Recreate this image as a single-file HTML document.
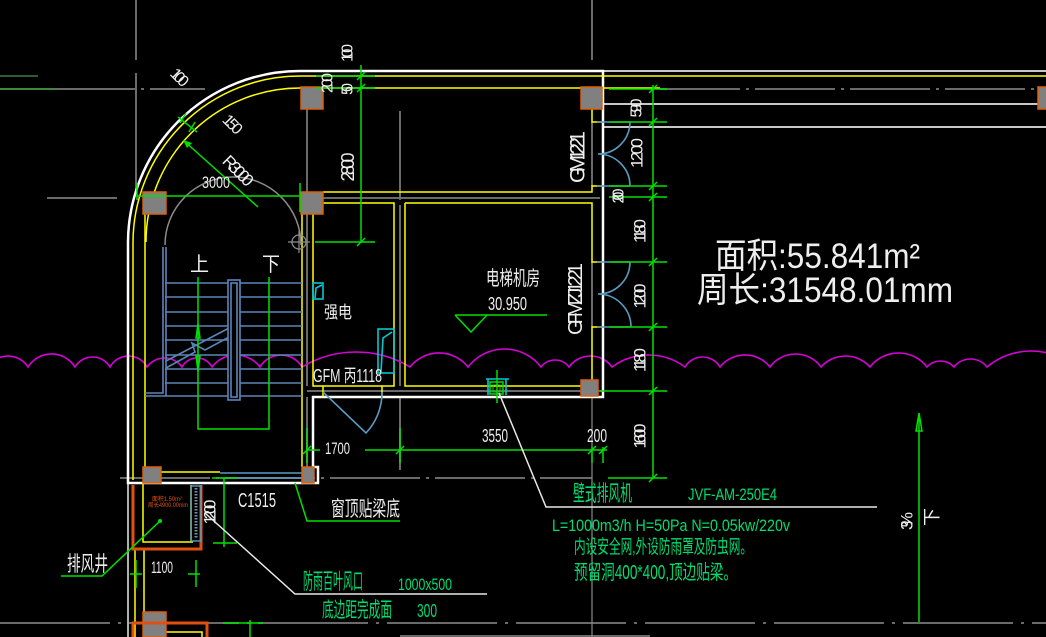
<!DOCTYPE html>
<html><head><meta charset="utf-8">
<style>
html,body{margin:0;padding:0;background:#000;}
svg{display:block;}
text{font-family:"Liberation Sans","Noto Sans CJK SC",sans-serif;}
</style></head>
<body>
<svg width="1046" height="637" viewBox="0 0 1046 637" xmlns="http://www.w3.org/2000/svg">
<rect width="1046" height="637" fill="#000"/>

<!-- gray axis lines -->
<g stroke="#6a6a6a" stroke-width="2" fill="none">
<path d="M55 89H205 M660 89H1046" stroke-dasharray="80 6 3 6"/>
<path d="M47 198H117 M300 198H600"/>
<path d="M307 391H603"/>
<path d="M120 478H592" stroke-dasharray="90 6 3 6"/>
<path d="M0 623H1046" stroke-dasharray="110 8 3 8"/>
<path d="M400 636H650"/>
<path d="M136 0V60 M136 73V190"/>
<path d="M592 0V60"/>
<path d="M307 109V192 M307 214V386 M307 397V467"/>
<path d="M400 111V200 M400 205V386 M400 397V470"/>
<path d="M592 122V186 M592 262V327"/>
</g>
<path d="M592 396V637" stroke="#8a8a8a" stroke-width="1.2"/>
<path d="M128 483V637" stroke="#b0b0b0" stroke-width="2"/>

<!-- corridor light gray -->
<g stroke="#c8c8c8" stroke-width="2"><path d="M603 71H1046 M603 104H1046 M603 127H1046"/></g>

<!-- magenta revision cloud -->
<path fill="none" stroke="#d800d8" stroke-width="1.6" d="M-12 367
A23.7 23.7 0 0 1 28 367
A27.7 27.7 0 0 1 75 367
A20.3 20.3 0 0 1 110 367
A21.1 21.1 0 0 1 147 367
A21.5 21.5 0 0 1 182 367
A17 17 0 0 1 212 367
A30 30 0 0 1 260 367
A24.4 24.4 0 0 1 302 367
A104.7 104.7 0 0 1 410 367
A37 37 0 0 1 468 367
A46 46 0 0 1 541 367
A17.5 17.5 0 0 1 569 367
A26.5 26.5 0 0 1 612 367
A61.5 61.5 0 0 1 685 367
A20.3 20.3 0 0 1 720 367
A32 32 0 0 1 770 367
A31.5 31.5 0 0 1 821 367
A32.8 32.8 0 0 1 870 367
A36 36 0 0 1 927 367
A18.2 18.2 0 0 1 954 367
A21 21 0 0 1 987 367
A68.5 68.5 0 0 1 1075 367"/>

<!-- white outer walls -->
<path d="M300 71H603V397H313V467H318V483H128V242A172 172 0 0 1 300 71" stroke="#ffffff" stroke-width="2.5" fill="none"/>

<!-- yellow walls -->
<g stroke="#ffff00" stroke-width="1.5" fill="none">
<path d="M300 76H1046"/>
<path d="M133 243A167 167 0 0 1 300 76"/>
<path d="M300 88H660"/>
<path d="M146 242A154 154 0 0 1 300 88"/>
<path d="M133 243V480"/>
<path d="M145 214V467"/>
<path d="M302 214V467"/>
<path d="M592 109V122H603"/>
<path d="M323 192H592V186H603"/>
<path d="M313 214V386H394V203H323"/>
<path d="M405 203V386H581"/>
<path d="M405 203H592V262H603"/>
<path d="M603 327H592V380"/>
<path d="M149 483V472H220"/>
<path d="M323 386V397 M382 386V397"/>
<path d="M143 483V542H193 M191 485V542"/>
<path d="M135 548V637 M144 548V612"/>
<path d="M166 632H202V637"/>
</g>

<!-- gray semicircle + crosshair -->
<path d="M165 245A68 68 0 0 1 301 245" stroke="#8c8c8c" stroke-width="1.5" fill="none"/>
<circle cx="299" cy="242" r="7" stroke="#8c8c8c" stroke-width="1.3" fill="none"/>
<path d="M288 242H310 M299 231V253" stroke="#8c8c8c" stroke-width="1.2"/>

<!-- stairs -->
<g stroke="#5a85b8" stroke-width="1.6" fill="none">
<path d="M165 283H302 M165 297H302 M165 312H302 M165 326H302 M165 340H302 M165 355H302 M165 369H302 M165 383H302"/>
<path d="M145 396H302"/>
<path d="M163 247V393H145 M166 247V396"/>
<path d="M166 361L231 327 M166 368L195 352L192 343L205 350L231 336"/>
<rect x="228" y="280" width="12" height="120" fill="#000"/>
<rect x="231" y="283" width="6" height="114"/>
</g>

<!-- stair arrows -->
<g stroke="#00e000" stroke-width="1.5" fill="none">
<path d="M198 277V429H269V277"/>
<path d="M196 338L198 324L200 338Z"/>
<path d="M196 356L198 371L200 356Z"/>
</g>

<!-- doors (blue) -->
<g stroke="#5a9ac0" stroke-width="1.6" fill="none">
<path d="M597 122H630 M597 186H630"/>
<path d="M630 122A32 32 0 0 1 598 154 A32 32 0 0 1 630 186"/>
<path d="M597 262H630 M597 327H630"/>
<path d="M630 262A32 32 0 0 1 598 294 A33 33 0 0 1 631 327"/>
<path d="M323 392L366 433 A59 59 0 0 0 382 392"/>
<path d="M220 473H302 M220 478H302"/>
</g>

<!-- cyan elements -->
<g stroke="#00c8d0" stroke-width="1.6" fill="none">
<rect x="313" y="283" width="10" height="16"/>
<path d="M315 298L316 288L322 285"/>
<rect x="378" y="329" width="16" height="44"/>
<path d="M381 372L383 338L392 332"/>
<path d="M486 379H509 M488 379V395 M506 379V395"/>
</g>
<rect x="490" y="382" width="13" height="12" stroke="#00e000" stroke-width="1.5" fill="none"/>
<path d="M493 385H500V392H493Z" stroke="#00e000" stroke-width="1" fill="none"/>

<!-- columns -->
<g fill="#808080" stroke="#e0600a" stroke-width="1.5">
<rect x="301" y="87" width="22" height="22"/>
<rect x="143" y="192" width="23" height="22"/>
<rect x="301" y="192" width="22" height="22"/>
<rect x="581" y="87" width="21" height="22"/>
<rect x="581" y="380" width="17" height="16"/>
<rect x="143" y="467" width="18" height="16"/>
<rect x="302" y="467" width="12" height="16"/>
<rect x="143" y="612" width="23" height="25"/>
<rect x="1038" y="87" width="10" height="22"/>
</g>

<!-- shaft orange -->
<g stroke="#e05010" stroke-width="3" fill="none">
<path d="M133 485V549H201V485"/>
<path d="M133 637V623H207V637"/>
</g>
<rect x="191" y="486" width="10" height="55" stroke="#5a9ac0" stroke-width="1.4" fill="none"/>
<path d="M196 488V539" stroke="#7090a8" stroke-width="3" stroke-dasharray="1.5 1.5"/>
<text x="152" y="501" font-size="6" fill="#e05010" textLength="30" lengthAdjust="spacingAndGlyphs">面积1.50m²</text>
<text x="148" y="507" font-size="6" fill="#e05010" textLength="40" lengthAdjust="spacingAndGlyphs">周长4900.00mm</text>

<!-- green dims -->
<path d="M0 76H38" stroke="#3d7d3d" stroke-width="1.5"/>
<path d="M0 89H55" stroke="#3d8a3d" stroke-width="2"/>
<g stroke="#00e000" stroke-width="1.5" fill="none">
<path d="M361 65V242 M316 76H375 M316 88H375 M315 242H375"/>
<path d="M357 80L365 72 M357 92L365 84 M357 246L365 238"/>
<path d="M137 196H300 M137 183V200 M300 183V212"/>
<path d="M183 140L258 207"/>
<path d="M178 117L197 132 M180 123L186 113 M189 132L195 122"/>
<path d="M653 85V478"/>
<path d="M609 89H667 M609 122H667 M609 186H667 M609 197H667 M610 262H667 M610 327H667 M600 391H667 M608 478H667"/>
<path d="M649 93L657 85 M649 126L657 118 M649 190L657 182 M649 201L657 193 M649 266L657 258 M649 331L657 323 M649 395L657 387 M649 482L657 474"/>
<path d="M307 450H320 M365 450H607"/>
<path d="M307 428V463 M400 428V463 M592 447V463 M603 447V463"/>
<path d="M303 454L311 446 M396 454L404 446 M588 454L596 446 M599 454L607 446"/>
<path d="M224 478V547 M213 543H237 M212 478H237"/>
<path d="M136 560V588 M196 560V587 M188 574H200 M130 574H142"/>
<path d="M250 620V637 M223 623H263"/>
<path d="M61 576H102L160 521"/>
<path d="M295 483L307 521H400"/>
<path d="M455 315H547 M455 315L471 332L487 315"/>
<path d="M497 370V403"/>
<path d="M919 415V622"/>
<path d="M916 431L919 413L922 431Z"/>
</g>
<path d="M183 140L192 143L187 148Z" fill="#00e000"/>
<circle cx="160" cy="521" r="2" fill="#00e000"/>

<!-- white leaders -->
<g stroke="#e8e8e8" stroke-width="1.5" fill="none">
<path d="M499 393L546 507H877"/>
<path d="M205 513L295 594H487"/>
</g>

<!-- white rotated labels -->
<g fill="#eeeeee" text-anchor="middle" dominant-baseline="central" lengthAdjust="spacingAndGlyphs">
<text transform="translate(348,53) rotate(-90)" font-size="16" textLength="18">100</text>
<text transform="translate(328,83) rotate(-90)" font-size="16" textLength="20">200</text>
<text transform="translate(348,89) rotate(-90)" font-size="16" textLength="12">50</text>
<text transform="translate(348,167) rotate(-90)" font-size="18" textLength="29">2800</text>
<text transform="translate(578,157) rotate(-90)" font-size="21" textLength="52">GM1221</text>
<text transform="translate(576,299) rotate(-90)" font-size="20" textLength="72">GFM ZJ1221</text>
<text transform="translate(637,108) rotate(-90)" font-size="16" textLength="19">590</text>
<text transform="translate(637,153) rotate(-90)" font-size="17" textLength="30">1200</text>
<text transform="translate(619,196) rotate(-90)" font-size="16" textLength="15">200</text>
<text transform="translate(640,231) rotate(-90)" font-size="17" textLength="24">1180</text>
<text transform="translate(640,296) rotate(-90)" font-size="17" textLength="25">1200</text>
<text transform="translate(640,360) rotate(-90)" font-size="17" textLength="24">1180</text>
<text transform="translate(640,436) rotate(-90)" font-size="17" textLength="25">1600</text>
<text transform="translate(210,512) rotate(-90)" font-size="17" textLength="25">1200</text>
<text transform="translate(907,521) rotate(-90)" font-size="17" textLength="18">3%</text>
<text transform="translate(932,517) rotate(-90)" font-size="18" textLength="17">下</text>
<text transform="translate(179,78) rotate(45)" font-size="16" textLength="19">100</text>
<text transform="translate(232,125) rotate(45)" font-size="16" textLength="21">150</text>
<text transform="translate(238,171) rotate(45)" font-size="17" textLength="36">R3000</text>
</g>

<!-- white horizontal labels -->
<g fill="#eeeeee" lengthAdjust="spacingAndGlyphs">
<text x="202" y="188" font-size="17" textLength="28" lengthAdjust="spacingAndGlyphs">3000</text>
<text x="190" y="271" font-size="20" textLength="19" lengthAdjust="spacingAndGlyphs">上</text>
<text x="262" y="271" font-size="20" textLength="18" lengthAdjust="spacingAndGlyphs">下</text>
<text x="324" y="318" font-size="17" textLength="28" lengthAdjust="spacingAndGlyphs">强电</text>
<text x="313" y="382" font-size="18" textLength="69" lengthAdjust="spacingAndGlyphs">GFM 丙1118</text>
<text x="486" y="285" font-size="20" textLength="54" lengthAdjust="spacingAndGlyphs">电梯机房</text>
<text x="488" y="310" font-size="18" textLength="39" lengthAdjust="spacingAndGlyphs">30.950</text>
<text x="325" y="454" font-size="17" textLength="25" lengthAdjust="spacingAndGlyphs">1700</text>
<text x="482" y="442" font-size="18" textLength="26" lengthAdjust="spacingAndGlyphs">3550</text>
<text x="587" y="442" font-size="18" textLength="20" lengthAdjust="spacingAndGlyphs">200</text>
<text x="238" y="507" font-size="20" textLength="38" lengthAdjust="spacingAndGlyphs">C1515</text>
<text x="331" y="516" font-size="21" textLength="69" lengthAdjust="spacingAndGlyphs">窗顶贴梁底</text>
<text x="67" y="571" font-size="21" textLength="41" lengthAdjust="spacingAndGlyphs">排风井</text>
<text x="151" y="573" font-size="17" textLength="22" lengthAdjust="spacingAndGlyphs">1100</text>
<text x="715" y="268" font-size="35" textLength="205" lengthAdjust="spacingAndGlyphs">面积:55.841m²</text>
<text x="697" y="302" font-size="35" textLength="256" lengthAdjust="spacingAndGlyphs">周长:31548.01mm</text>
</g>

<!-- green notes -->
<g fill="#00dc6e">
<text x="573" y="501" font-size="22" textLength="59" lengthAdjust="spacingAndGlyphs">壁式排风机</text>
<text x="688" y="500" font-size="17" textLength="89" lengthAdjust="spacingAndGlyphs">JVF-AM-250E4</text>
<text x="552" y="531" font-size="17" textLength="238" lengthAdjust="spacingAndGlyphs">L=1000m3/h  H=50Pa N=0.05kw/220v</text>
<text x="574" y="553" font-size="19" textLength="178" lengthAdjust="spacingAndGlyphs">内设安全网,外设防雨罩及防虫网。</text>
<text x="574" y="579" font-size="20" textLength="163" lengthAdjust="spacingAndGlyphs">预留洞400*400,顶边贴梁。</text>
<text x="303" y="589" font-size="22" textLength="60" lengthAdjust="spacingAndGlyphs">防雨百叶风口</text>
<text x="398" y="590" font-size="17" textLength="54" lengthAdjust="spacingAndGlyphs">1000x500</text>
<text x="322" y="617" font-size="21" textLength="70" lengthAdjust="spacingAndGlyphs">底边距完成面</text>
<text x="417" y="617" font-size="18" textLength="20" lengthAdjust="spacingAndGlyphs">300</text>
</g>
</svg>
</body></html>
